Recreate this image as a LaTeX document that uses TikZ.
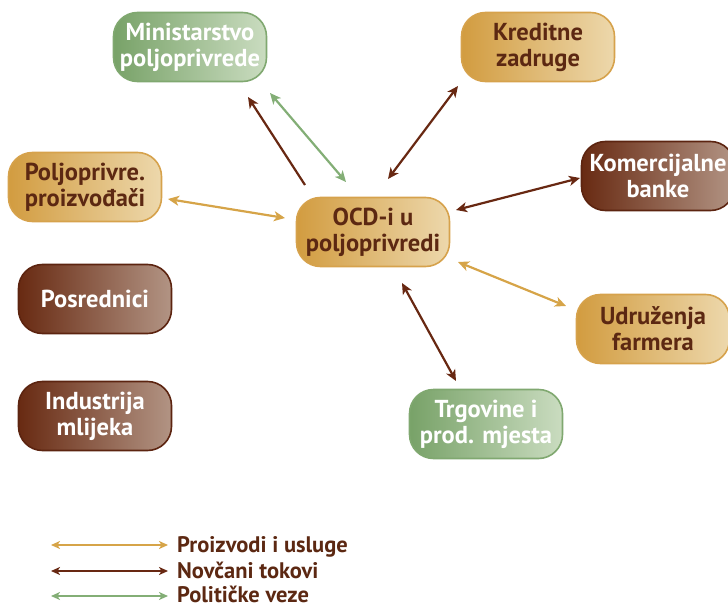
\documentclass[tikz,border=0pt]{standalone}
\usepackage{fontspec}
\setmainfont{PT Sans}
\usetikzlibrary{arrows.meta,calc}
\definecolor{tanL}{RGB}{210,156,64}
\definecolor{tanR}{RGB}{237,216,172}
\definecolor{tanB}{RGB}{214,162,76}
\definecolor{brnL}{RGB}{104,42,18}
\definecolor{brnR}{RGB}{178,148,132}
\definecolor{brnB}{RGB}{92,36,16}
\definecolor{grnL}{RGB}{120,162,104}
\definecolor{grnR}{RGB}{202,220,192}
\definecolor{grnB}{RGB}{128,168,112}
\definecolor{txtB}{RGB}{92,40,18}
\definecolor{arTan}{RGB}{214,164,72}
\definecolor{arBrn}{RGB}{104,40,18}
\definecolor{arGrn}{RGB}{131,174,118}
\tikzset{
  box/.style={rounded corners=24pt, minimum width=153pt, minimum height=69pt,
    line width=1.6pt, align=center, font=\fontsize{24.5}{26}\selectfont\bfseries,
    inner sep=0pt},
  tanbox/.style={box, left color=tanL, right color=tanR, draw=tanB, text=txtB},
  brnbox/.style={box, left color=brnL, right color=brnR, draw=brnB, text=white},
  grnbox/.style={box, left color=grnL, right color=grnR, draw=grnB, text=white},
  flow/.style={line width=2.2pt, >={Stealth[length=11pt,width=10pt,inset=3pt]}},
  legflow/.style={line width=1.8pt, >={Stealth[length=9pt,width=8pt,inset=2.5pt]}, <->},
  goods/.style={flow, arTan},
  money/.style={flow, arBrn},
  policy/.style={flow, arGrn},
  legtext/.style={anchor=base west, text=txtB, text depth=0pt,
    font=\fontsize{22.5}{25}\selectfont\bfseries, inner sep=0pt}
}
\begin{document}
\begin{tikzpicture}[x=1pt,y=-1pt]
\useasboundingbox (0,0) rectangle (728,607);

% actors
\node[grnbox] (min) at (190,47) {Ministarstvo\\poljoprivrede};
\node[tanbox] (kred) at (538,47) {Kreditne\\zadruge};
\node[tanbox] (prod) at (85,187) {Poljoprivre.\\proizvođači};
\node[tanbox] (ocd) at (373,232) {OCD-i u\\poljoprivredi};
\node[brnbox] (bank) at (658,176) {Komercijalne\\banke};
\node[tanbox] (farm) at (653,329) {Udruženja\\farmera};
\node[grnbox] (trg) at (486,424) {Trgovine i\\prod. mjesta};
\node[brnbox] (posr) at (95,299) {Posrednici};
\node[brnbox] (ind) at (95,416) {Industrija\\mlijeka};

% connector ends next to the boxes
\coordinate (mA) at (305,185); \coordinate (mB) at (248,97);
\coordinate (gA) at (346,182); \coordinate (gB) at (270,93);
\coordinate (kA) at (388,179); \coordinate (kB) at (458,86);
\coordinate (pA) at (285,218); \coordinate (pB) at (168,199);
\coordinate (bA) at (456,210); \coordinate (bB) at (580,178);
\coordinate (fA) at (458,262); \coordinate (fB) at (566,306);
\coordinate (tA) at (402,283); \coordinate (tB) at (456,381);

\draw[money,->] (mA) -- (mB);
\draw[policy,<->] (gA) -- (gB);
\draw[money,<->] (kA) -- (kB);
\draw[goods,<->] (pA) -- (pB);
\draw[money,<->] (bA) -- (bB);
\draw[goods,<->] (fA) -- (fB);
\draw[money,<->] (tA) -- (tB);

% legend
\coordinate (l1a) at (51,545); \coordinate (l1b) at (168,545);
\coordinate (l2a) at (51,571); \coordinate (l2b) at (168,571);
\coordinate (l3a) at (51,596); \coordinate (l3b) at (168,596);
\draw[legflow,arTan] (l1a) -- (l1b);
\draw[legflow,arBrn] (l2a) -- (l2b);
\draw[legflow,arGrn] (l3a) -- (l3b);
\node[legtext] (lt1) at (177,552) {Proizvodi i usluge};
\node[legtext] (lt2) at (177,578) {Novčani tokovi};
\node[legtext] (lt3) at (177,602) {Političke veze};
\end{tikzpicture}
\end{document}
